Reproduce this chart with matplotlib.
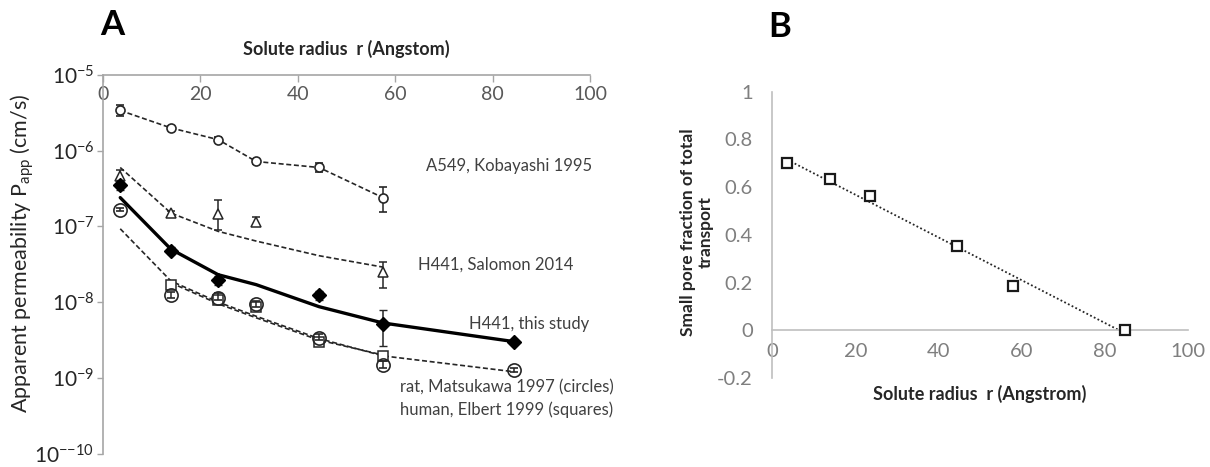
import matplotlib
matplotlib.use("Agg")
import matplotlib.pyplot as plt
import numpy as np

plt.rcParams['font.family'] = ['Lato', 'DejaVu Sans']
plt.rcParams['mathtext.fontset'] = 'custom'
plt.rcParams['mathtext.rm'] = 'Lato'

# ---------------- Panel A data ----------------
# A549, Kobayashi 1995 (small open circles)
r_a549 = [3.6, 14.0, 23.7, 31.5, 44.4, 57.5]
p_a549 = [3.4e-6, 2.0e-6, 1.4e-6, 7.2e-7, 6.0e-7, 2.4e-7]
lo_a549 = [2.9e-6, 1.9e-6, 1.3e-6, 6.6e-7, 5.2e-7, 1.55e-7]
hi_a549 = [4.0e-6, 2.1e-6, 1.5e-6, 7.8e-7, 6.9e-7, 3.3e-7]

# H441, Salomon 2014 (open triangles)
r_sal = [3.6, 14.0, 23.7, 31.5, 57.5]
p_sal = [4.7e-7, 1.5e-7, 1.45e-7, 1.14e-7, 2.5e-8]
lo_sal = [3.9e-7, 1.4e-7, 9.0e-8, 1.0e-7, 1.55e-8]
hi_sal = [5.6e-7, 1.6e-7, 2.2e-7, 1.35e-7, 3.4e-8]

# H441, this study (filled diamonds)
r_study = [3.6, 14.0, 23.7, 44.4, 57.5, 84.5]
p_study = [3.5e-7, 4.8e-8, 1.95e-8, 1.23e-8, 5.1e-9, 3.0e-9]
lo_study = [3.0e-7, 4.3e-8, 1.7e-8, 1.05e-8, 2.6e-9, 3.0e-9]
hi_study = [4.1e-7, 5.4e-8, 2.2e-8, 1.4e-8, 7.8e-9, 3.0e-9]

# rat, Matsukawa 1997 (large open circles)
r_rat = [3.6, 14.0, 23.7, 31.5, 44.4, 57.5, 84.5]
p_rat = [1.66e-7, 1.25e-8, 1.15e-8, 9.3e-9, 3.4e-9, 1.48e-9, 1.28e-9]
lo_rat = [1.6e-7, 1.15e-8, 1.05e-8, 8.6e-9, 3.15e-9, 1.35e-9, 1.2e-9]
hi_rat = [1.75e-7, 1.35e-8, 1.3e-8, 1.03e-8, 3.8e-9, 1.65e-9, 1.36e-9]

# human, Elbert 1999 (open squares)
r_hum = [14.0, 23.7, 31.5, 44.4, 57.5]
p_hum = [1.7e-8, 1.05e-8, 8.5e-9, 3.0e-9, 1.95e-9]
lo_hum = [1.55e-8, 9.5e-9, 7.8e-9, 2.7e-9, 1.75e-9]
hi_hum = [1.9e-8, 1.2e-8, 9.5e-9, 3.4e-9, 2.2e-9]

# model curves
r_fit = [3.6, 14.0, 23.7, 31.5, 44.4, 57.5, 84.5]
fit_sal = [6.0e-7, 1.5e-7, 8.6e-8, 6.4e-8, 4.1e-8, 2.9e-8]
fit_study = [2.4e-7, 5.0e-8, 2.3e-8, 1.7e-8, 8.7e-9, 5.3e-9, 3.0e-9]
fit_rat = [9.3e-8, 1.9e-8, 1.0e-8, 6.5e-9, 3.3e-9, 1.95e-9, 1.2e-9]
r_fit_hum = [14.0, 23.7, 31.5, 44.4, 57.5]
fit_hum = [1.8e-8, 9.5e-9, 6.2e-9, 3.15e-9, 2.0e-9]

ytick_vals = [1e-10, 1e-9, 1e-8, 1e-7, 1e-6, 1e-5]
ytick_labels = [r'$\mathregular{10^{{-}{-}10}}$', r'$\mathregular{10^{-9}}$',
                r'$\mathregular{10^{-8}}$', r'$\mathregular{10^{-7}}$',
                r'$\mathregular{10^{-6}}$', r'$\mathregular{10^{-5}}$']
xticks_a = [0, 20, 40, 60, 80, 100]

# ---------------- Panel B data ----------------
r_b = [3.6, 14.0, 23.6, 44.4, 57.8, 84.8]
frac_b = [0.70, 0.636, 0.562, 0.352, 0.185, 0.0]
trend_r = [3.6, 84.0]
trend_f = [0.715, -0.005]
xticks_b = [0, 20, 40, 60, 80, 100]
yticks_b = [-0.2, 0, 0.2, 0.4, 0.6, 0.8, 1]
yticklabels_b = ['-0.2', '0', '0.2', '0.4', '0.6', '0.8', '1']

W, H = 1210, 467
fig = plt.figure(figsize=(W / 100, H / 100), dpi=100)

# ================= Panel A =================
axA = fig.add_axes([102.7 / W, 1 - 453.5 / H, (590 - 102.7) / W, (453.5 - 75) / H])
axA.set_yscale('log')
axA.set_xlim(0, 100)
axA.set_ylim(1e-10, 1e-5)
axA.spines['right'].set_visible(False)
axA.spines['top'].set_visible(False)
axA.spines['bottom'].set_position(('axes', 1.0))
axA.spines['bottom'].set_color('#a6a6a6')
axA.spines['left'].set_color('#a6a6a6')
axA.spines['bottom'].set_linewidth(1.2)
axA.spines['left'].set_linewidth(1.2)
axA.set_xticks(xticks_a)
axA.set_xticklabels([str(v) for v in xticks_a])
axA.tick_params(axis='x', direction='out', length=5, width=1, color='#a6a6a6',
                labelsize=14, labelcolor='#595959', pad=3)
axA.set_yticks(ytick_vals)
axA.set_yticklabels(ytick_labels)
axA.yaxis.set_minor_locator(matplotlib.ticker.NullLocator())
axA.tick_params(axis='y', direction='out', length=4, width=1, color='#a6a6a6',
                labelsize=15, labelcolor='#262626', pad=2)
fig.text(22 / W, 1 - 253 / H, r'Apparent permeability P$_{\mathregular{app}}$ (cm/s)',
         fontsize=15.5, color='#262626', rotation=90, ha='center', va='center')
axA.text(0.5, 1.068, 'Solute radius  r (Angstom)', transform=axA.transAxes,
         ha='center', va='center', fontsize=13, fontweight='bold', color='#262626')
fig.text(112 / W, 1 - 25 / H, 'A', ha='center', va='center', fontsize=25,
         fontweight='bold', color='black')

dash = dict(color='#262626', lw=1.2, linestyle=(0, (3, 1.6)))
axA.plot(r_a549, p_a549, **dash, zorder=2)
axA.plot(r_fit[:len(fit_sal)], fit_sal, **dash, zorder=2)
axA.plot(r_fit, fit_rat, **dash, zorder=2)
axA.plot(r_fit_hum, fit_hum, **dash, zorder=2)
axA.plot(r_fit, fit_study, color='black', lw=2.4, zorder=3, solid_capstyle='round')

def eb(r, p, lo, hi, **kw):
    p = np.asarray(p); lo = np.asarray(lo); hi = np.asarray(hi)
    axA.errorbar(r, p, yerr=[p - lo, hi - p], linestyle='none', ecolor='#262626',
                 elinewidth=1.1, capsize=3, capthick=1.1, **kw)

eb(r_a549, p_a549, lo_a549, hi_a549, marker='o', ms=6.5, mfc='white', mec='#262626', mew=1.2, zorder=4)
eb(r_sal, p_sal, lo_sal, hi_sal, marker='^', ms=6.5, mfc='white', mec='#262626', mew=1.1, zorder=4)
eb(r_hum, p_hum, lo_hum, hi_hum, marker='s', ms=6.5, mfc='white', mec='#262626', mew=1.1, zorder=4)
eb(r_rat, p_rat, lo_rat, hi_rat, marker='o', ms=9.5, mfc='none', mec='#262626', mew=1.2, zorder=5)
eb(r_study, p_study, lo_study, hi_study, marker='D', ms=7.5, mfc='black', mec='black', mew=1, zorder=6)

tk = dict(fontsize=12, color='#404040', ha='left', va='center', transform=fig.transFigure)
fig.text(426 / W, 1 - 166 / H, 'A549, Kobayashi 1995', **tk)
fig.text(418 / W, 1 - 265 / H, 'H441, Salomon 2014', **tk)
fig.text(469 / W, 1 - 324 / H, 'H441, this study', **tk)
fig.text(400 / W, 1 - 387 / H, 'rat, Matsukawa 1997 (circles)', **tk)
fig.text(400 / W, 1 - 410 / H, 'human, Elbert 1999 (squares)', **tk)

# ================= Panel B =================
axB = fig.add_axes([772.3 / W, 1 - 378 / H, (1188 - 772.3) / W, (378 - 91.7) / H])
axB.set_xlim(0, 100)
axB.set_ylim(-0.2, 1.0)
axB.spines['right'].set_visible(False)
axB.spines['top'].set_visible(False)
axB.spines['bottom'].set_position(('data', 0))
axB.spines['bottom'].set_color('#bfbfbf')
axB.spines['left'].set_color('#bfbfbf')
axB.spines['bottom'].set_linewidth(1.2)
axB.spines['left'].set_linewidth(1.2)
axB.set_xticks(xticks_b)
axB.set_xticklabels([str(v) for v in xticks_b])
axB.set_yticks(yticks_b)
axB.set_yticklabels(yticklabels_b)
axB.tick_params(axis='x', length=0, labelsize=14.5, labelcolor='#7f7f7f', pad=9)
axB.tick_params(axis='y', length=0, labelsize=14.5, labelcolor='#7f7f7f', pad=14)
axB.plot(trend_r, trend_f, color='#262626', lw=1.3, linestyle=(0, (1, 1.3)), zorder=2)
axB.plot(r_b, frac_b, linestyle='none', marker='s', ms=7, mfc='white', mec='#1a1a1a',
         mew=1.6, zorder=3)
fig.text(980 / W, 1 - 394 / H, 'Solute radius  r (Angstrom)', ha='center', va='center',
         fontsize=13, fontweight='bold', color='#262626')
fig.text(697 / W, 1 - 232 / H, 'Small pore fraction of total\ntransport', ha='center',
         va='center', rotation=90, fontsize=12.5, fontweight='bold', color='#262626',
         linespacing=1.15)
fig.text(780 / W, 1 - 27 / H, 'B', ha='center', va='center', fontsize=25,
         fontweight='bold', color='black')

fig.savefig('out.png', dpi=100)
